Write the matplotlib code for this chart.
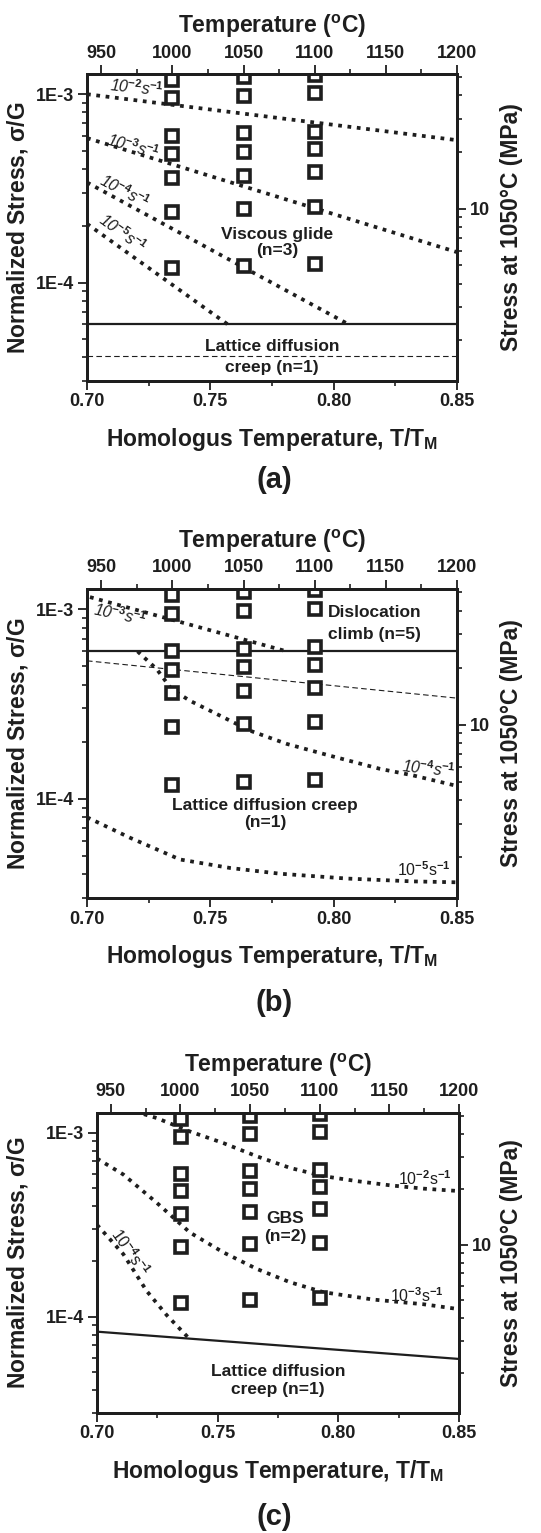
import matplotlib
matplotlib.use("Agg")
import matplotlib.pyplot as plt
from matplotlib.ticker import FixedLocator, FixedFormatter, NullFormatter

plt.rcParams['font.family'] = ['Liberation Sans', 'DejaVu Sans']
plt.rcParams['font.weight'] = 'bold'
plt.rcParams['axes.labelweight'] = 'bold'
plt.rcParams['mathtext.fontset'] = 'custom'
plt.rcParams['mathtext.rm'] = 'Liberation Sans'
plt.rcParams['mathtext.it'] = 'Liberation Sans:italic'
plt.rcParams['mathtext.bf'] = 'Liberation Sans:bold'

INK = '#1e1e1e'

# ------------------------------------------------------------------ data
T_MELT_K = 1733.12           # homologous temperature reference (K)
SHEAR_MODULUS_MPA = 40600.0  # G at 1050 C, used for the right-hand axis
Y_LIMITS = (3.0e-5, 1.28e-3)
X_LIMITS = (0.70, 0.85)

test_temp_C = [1000, 1050, 1100]
norm_stress_1000C = [1.19e-3, 9.5e-4, 6.0e-4, 4.8e-4, 3.6e-4, 2.38e-4, 1.19e-4]
norm_stress_1050C = [1.23e-3, 9.8e-4, 6.2e-4, 4.95e-4, 3.7e-4, 2.47e-4, 1.23e-4]
norm_stress_1100C = [1.27e-3, 1.01e-3, 6.3e-4, 5.1e-4, 3.85e-4, 2.53e-4, 1.26e-4]

# panel (a): viscous glide iso-strain-rate lines
a_e2_x = [0.70, 0.85]
a_e2_y = [1.0e-3, 5.7e-4]
a_e3_x = [0.70, 0.85]
a_e3_y = [5.85e-4, 1.45e-4]
a_e4_x = [0.70, 0.806]
a_e4_y = [3.4e-4, 6.0e-5]
a_e5_x = [0.70, 0.757]
a_e5_y = [2.05e-4, 6.0e-5]
a_boundary_x = [0.70, 0.85]
a_boundary_y = [6.0e-5, 6.0e-5]
a_dashed_x = [0.70, 0.85]
a_dashed_y = [4.05e-5, 4.05e-5]

# panel (b): dislocation climb / lattice diffusion
b_e3_x = [0.7012, 0.781]
b_e3_y = [1.16e-3, 6.0e-4]
b_e4_x = [0.7205, 0.7283, 0.7343, 0.7418, 0.7539, 0.7661, 0.781, 0.7985, 0.8188, 0.8322, 0.85]
b_e4_y = [6.0e-4, 4.83e-4, 3.79e-4, 3.29e-4, 2.75e-4, 2.29e-4, 1.95e-4, 1.69e-4, 1.44e-4, 1.33e-4, 1.17e-4]
b_e5_x = [0.70, 0.7174, 0.7377, 0.758, 0.7782, 0.8053, 0.8322, 0.85]
b_e5_y = [8.0e-5, 6.24e-5, 4.79e-5, 4.32e-5, 4.03e-5, 3.8e-5, 3.67e-5, 3.63e-5]
b_boundary_x = [0.70, 0.85]
b_boundary_y = [6.0e-4, 6.0e-4]
b_dashed_x = [0.70, 0.85]
b_dashed_y = [5.35e-4, 3.4e-4]

# panel (c): GBS
c_e2_x = [0.712, 0.7247, 0.7385, 0.7523, 0.7662, 0.78, 0.7938, 0.8076, 0.8214, 0.8352, 0.85]
c_e2_y = [1.35e-3, 1.202e-3, 1.016e-3, 8.79e-4, 7.45e-4, 6.44e-4, 5.81e-4, 5.46e-4, 5.18e-4, 4.97e-4, 4.82e-4]
c_e3_x = [0.70, 0.7109, 0.7247, 0.7385, 0.7523, 0.7662, 0.78, 0.7938, 0.8145, 0.8352, 0.85]
c_e3_y = [7.24e-4, 5.93e-4, 4.17e-4, 2.87e-4, 2.24e-4, 1.82e-4, 1.54e-4, 1.36e-4, 1.24e-4, 1.17e-4, 1.10e-4]
c_e4_x = [0.70, 0.7109, 0.7206, 0.7289, 0.7378]
c_e4_y = [3.16e-4, 2.19e-4, 1.38e-4, 1.02e-4, 7.71e-5]
c_boundary_x = [0.70, 0.85]
c_boundary_y = [8.3e-5, 5.9e-5]

# axis ticks / labels
x_major = [0.70, 0.75, 0.80, 0.85]
x_major_labels = ['0.70', '0.75', '0.80', '0.85']
x_minor = [0.725, 0.775, 0.825]
top_major = [950, 1000, 1050, 1100, 1150, 1200]
top_major_labels = ['950', '1000', '1050', '1100', '1150', '1200']
top_minor = [975, 1025, 1075, 1125, 1175]
y_major = [1e-4, 1e-3]
y_major_labels = ['1E-4', '1E-3']
y_minor = [3e-5, 4e-5, 5e-5, 6e-5, 7e-5, 8e-5, 9e-5,
           2e-4, 3e-4, 4e-4, 5e-4, 6e-4, 7e-4, 8e-4, 9e-4]
right_major = [10]
right_major_labels = ['10']
right_minor = [2, 3, 4, 5, 6, 7, 8, 9, 20, 30, 40, 50]

rate_e2 = r'10$^{-2}$s$^{-1}$'
rate_e3 = r'10$^{-3}$s$^{-1}$'
rate_e4 = r'10$^{-4}$s$^{-1}$'
rate_e5 = r'10$^{-5}$s$^{-1}$'

# ------------------------------------------------------------------ figure
W, H = 541, 1533
fig = plt.figure(figsize=(W / 100, H / 100), dpi=100)


def px_axes(l, t, r, b):
    return fig.add_axes([l / W, 1 - b / H, (r - l) / W, (b - t) / H])


DOT = dict(color=INK, lw=2.7, ls=(0, (1, 1.5)), dash_capstyle='butt', zorder=3)
SOLID = dict(color=INK, lw=1.6, zorder=3)
DASH = dict(color=INK, lw=0.8, ls=(0, (5, 3)), zorder=3)
RATE = dict(fontsize=11.5, fontweight='normal', color=INK, ha='center', va='center')
REGION = dict(fontsize=12.5, fontweight='bold', color=INK, ha='center', va='center')


def style_ticks(a):
    a.tick_params(which='major', direction='out', length=6.5, width=1.3,
                  labelsize=13, pad=2.5, colors=INK)
    a.tick_params(which='minor', direction='out', length=3.5, width=1.2, colors=INK)
    for s in a.spines.values():
        s.set_linewidth(2.0)
        s.set_color(INK)


def setup_panel(ax, w_px, h_px, left_px):
    ax.set_yscale('log')
    ax.set_xlim(*X_LIMITS)
    ax.set_ylim(*Y_LIMITS)
    ax.xaxis.set_major_locator(FixedLocator(x_major))
    ax.xaxis.set_major_formatter(FixedFormatter(x_major_labels))
    ax.xaxis.set_minor_locator(FixedLocator(x_minor))
    ax.yaxis.set_major_locator(FixedLocator(y_major))
    ax.yaxis.set_major_formatter(FixedFormatter(y_major_labels))
    ax.yaxis.set_minor_locator(FixedLocator(y_minor))
    ax.yaxis.set_minor_formatter(NullFormatter())
    style_ticks(ax)
    ax.set_xlabel(r'Homologus Temperature, T/T$_\mathbf{M}$', fontsize=16.5,
                  fontweight='bold', color=INK)
    ax.xaxis.set_label_coords(0.5, -45.0 / h_px)
    ax.set_ylabel(r'Normalized Stress, $\mathrm{\sigma}$/G', fontsize=16.5,
                  fontweight='bold', color=INK)
    ax.yaxis.set_label_coords((30 - left_px) / w_px, 0.5)

    top = ax.twiny()
    top.set_xlim(X_LIMITS[0] * T_MELT_K - 273.15, X_LIMITS[1] * T_MELT_K - 273.15 + 0.01)
    top.xaxis.set_major_locator(FixedLocator(top_major))
    top.xaxis.set_major_formatter(FixedFormatter(top_major_labels))
    top.xaxis.set_minor_locator(FixedLocator(top_minor))
    style_ticks(top)
    top.set_xlabel(r'Temperature ($^\mathbf{o}$C)', fontsize=16.5, fontweight='bold',
                   color=INK)
    top.xaxis.set_label_coords(0.5, 1 + 41.0 / h_px)

    right = ax.twinx()
    right.set_yscale('log')
    right.set_ylim(Y_LIMITS[0] * SHEAR_MODULUS_MPA, Y_LIMITS[1] * SHEAR_MODULUS_MPA)
    right.yaxis.set_major_locator(FixedLocator(right_major))
    right.yaxis.set_major_formatter(FixedFormatter(right_major_labels))
    right.yaxis.set_minor_locator(FixedLocator(right_minor))
    right.yaxis.set_minor_formatter(NullFormatter())
    style_ticks(right)
    right.set_ylabel('Stress at 1050\u00b0C (MPa)', fontsize=16.5, fontweight='bold',
                     color=INK)
    right.yaxis.set_label_coords((500 - left_px) / w_px, 0.5)
    return top, right


def draw_squares(ax):
    for temp, vals in zip(test_temp_C, [norm_stress_1000C, norm_stress_1050C, norm_stress_1100C]):
        hx = (temp + 273.15) / T_MELT_K
        ax.plot([hx] * len(vals), vals, ls='none', marker='s', ms=8.5, mew=2.6,
                mec=INK, mfc='white', zorder=5)


# ---------------- panel (a)
axa = px_axes(87, 74, 457, 381)
setup_panel(axa, 370, 307, 87)
axa.plot(a_e2_x, a_e2_y, **DOT)
axa.plot(a_e3_x, a_e3_y, **DOT)
axa.plot(a_e4_x, a_e4_y, **DOT)
axa.plot(a_e5_x, a_e5_y, **DOT)
axa.plot(a_boundary_x, a_boundary_y, **SOLID)
axa.plot(a_dashed_x, a_dashed_y, **DASH)
draw_squares(axa)
axa.text(0.7203, 1.08e-3, rate_e2, rotation=-6, fontstyle='italic', **RATE)
axa.text(0.7187, 5.3e-4, rate_e3, rotation=-16, fontstyle='italic', **RATE)
axa.text(0.7154, 3.05e-4, rate_e4, rotation=-28, fontstyle='italic', **RATE)
axa.text(0.7146, 1.84e-4, rate_e5, rotation=-36, fontstyle='italic', **RATE)
axa.text(0.777, 1.63e-4, 'Viscous glide\n(n=3)', linespacing=1.15, **REGION)
axa.text(0.775, 4.6e-5, 'Lattice diffusion', **REGION)
axa.text(0.775, 3.55e-5, 'creep (n=1)', **REGION)

# ---------------- panel (b)
axb = px_axes(87, 589, 457, 898)
setup_panel(axb, 370, 309, 87)
axb.plot(b_e3_x, b_e3_y, **DOT)
axb.plot(b_e4_x, b_e4_y, **DOT)
axb.plot(b_e5_x, b_e5_y, **DOT)
axb.plot(b_boundary_x, b_boundary_y, **SOLID)
axb.plot(b_dashed_x, b_dashed_y, **DASH)
draw_squares(axb)
axb.text(0.7134, 9.4e-4, rate_e3, rotation=-12, fontstyle='italic', **RATE)
axb.text(0.8386, 1.44e-4, rate_e4, rotation=-6, fontstyle='italic', **RATE)
axb.text(0.8366, 4.22e-5, rate_e5, **RATE)
axb.text(0.7977, 9.64e-4, 'Dislocation', fontsize=12.5, color=INK, ha='left', va='center')
axb.text(0.7977, 7.37e-4, 'climb (n=5)', fontsize=12.5, color=INK, ha='left', va='center')
axb.text(0.7722, 8.3e-5, 'Lattice diffusion creep\n(n=1)', linespacing=1.2, **REGION)

# ---------------- panel (c)
axc = px_axes(97, 1113, 459, 1413)
setup_panel(axc, 362, 300, 97)
axc.plot(c_e2_x, c_e2_y, **DOT)
axc.plot(c_e3_x, c_e3_y, **DOT)
axc.plot(c_e4_x, c_e4_y, **DOT)
axc.plot(c_boundary_x, c_boundary_y, **SOLID)
draw_squares(axc)
axc.text(0.8359, 5.64e-4, rate_e2, **RATE)
axc.text(0.8326, 1.3e-4, rate_e3, **RATE)
axc.text(0.7137, 2.25e-4, rate_e4, rotation=-55, **RATE)
axc.text(0.7779, 3.05e-4, 'GBS\n(n=2)', linespacing=1.2, **REGION)
axc.text(0.775, 4.5e-5, 'Lattice diffusion\ncreep (n=1)', linespacing=1.2, **REGION)

# ---------------- panel captions
for lbl, ypx in (('(a)', 480), ('(b)', 1003), ('(c)', 1517)):
    fig.text(274 / W, 1 - ypx / H, lbl, fontsize=21, fontweight='bold', color=INK,
             ha='center', va='center')

fig.savefig('out.png', dpi=100)
